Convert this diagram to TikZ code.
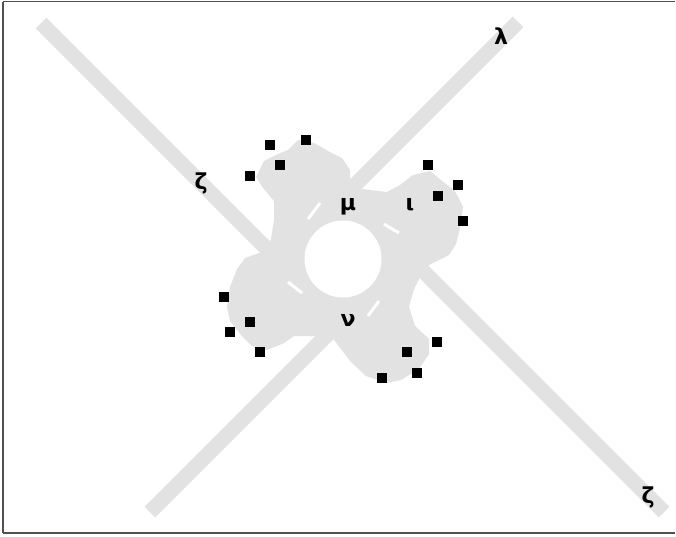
\documentclass[tikz,border=0pt]{standalone}
\usepackage{fontspec}
\newfontfamily\glyphfont{DejaVu Sans}
\definecolor{bandgray}{HTML}{E2E2E2}
\definecolor{framegray}{HTML}{505050}
\tikzset{
  arm/.style={draw=bandgray, line width=15pt, line cap=butt},
  dot/.style={fill=black, minimum size=9.5pt, inner sep=0pt, rectangle},
  lab/.style={font=\glyphfont\bfseries\fontsize{22}{22}\selectfont, inner sep=0pt, text=black},
  slit/.style={draw=white, line width=3pt, line cap=butt}
}
\begin{document}
\begin{tikzpicture}[x=1pt,y=-1pt]
\useasboundingbox (0,0) rectangle (676,536);
\fill[white] (0,0) rectangle (676,536);
% arms of the cross
\coordinate (ulA) at (41,23);  \coordinate (ulB) at (290,272);
\coordinate (urA) at (518,22); \coordinate (urB) at (320,220);
\coordinate (llA) at (150,512); \coordinate (llB) at (340,322);
\coordinate (lrA) at (664,512); \coordinate (lrB) at (400,248);
\draw[arm] (ulA) -- (ulB);
\draw[arm] (urA) -- (urB);
\draw[arm] (llA) -- (llB);
\draw[arm] (lrA) -- (lrB);
% blob
\fill[bandgray] (288,150) -- (298,140) -- (314,143) -- (328,151) -- (342,158) -- (350,170) -- (350,183)
 -- (362,189) -- (387,192) -- (400,185) -- (413,175) -- (430,171) -- (442,181) -- (455,191) -- (463,207)
 -- (460,228) -- (456,244) -- (449,255) -- (435,262) -- (422,269) -- (419,279) -- (414,289) -- (409,307)
 -- (415,326) -- (429,339) -- (429,354) -- (419,369) -- (401,380) -- (387,383) -- (366,376) -- (351,362)
 -- (341,349) -- (331,336) -- (317,336) -- (294,336) -- (284,343) -- (267,350) -- (252,346) -- (241,335)
 -- (230,321) -- (227,307) -- (230,287) -- (237,269) -- (245,258) -- (265,251) -- (271,239) -- (274,220)
 -- (274,201) -- (263,188) -- (256,177) -- (264,161) -- (278,154) -- cycle;
% hole
\fill[white] (343,259) circle[radius=38.5];
% white slits
\draw[slit] (308,219) -- (320,203);
\draw[slit] (288,282) -- (302,293);
\draw[slit] (368,316) -- (379,301);
\draw[slit] (384,224) -- (399,233);
% black squares
\node[dot] (s1) at (270,145) {};
\node[dot] (s2) at (306,140) {};
\node[dot] (s3) at (280,165) {};
\node[dot] (s4) at (250,176) {};
\node[dot] (s5) at (428,165) {};
\node[dot] (s6) at (458,185) {};
\node[dot] (s7) at (438,196) {};
\node[dot] (s8) at (463,221) {};
\node[dot] (s9) at (224,297) {};
\node[dot] (s10) at (250,322) {};
\node[dot] (s11) at (230,332) {};
\node[dot] (s12) at (260,352) {};
\node[dot] (s13) at (437,342) {};
\node[dot] (s14) at (407,352) {};
\node[dot] (s15) at (417,373) {};
\node[dot] (s16) at (382,378) {};
% labels
\node[lab] (l1) at (501,36) {λ};
\node[lab] (l2) at (201,183) {ζ};
\node[lab] (l3) at (348,207) {μ};
\node[lab] (l4) at (410,205) {ι};
\node[lab] (l5) at (348,320) {ν};
\node[lab] (l6) at (648,497) {ζ};
% frame
\draw[framegray, line width=1.3pt] (3,1.5) -- (675,1.5);
\draw[framegray, line width=1.3pt] (3,1.5) -- (3,533);
\draw[framegray, line width=1.3pt] (3,533) -- (675,533);
\end{tikzpicture}
\end{document}
